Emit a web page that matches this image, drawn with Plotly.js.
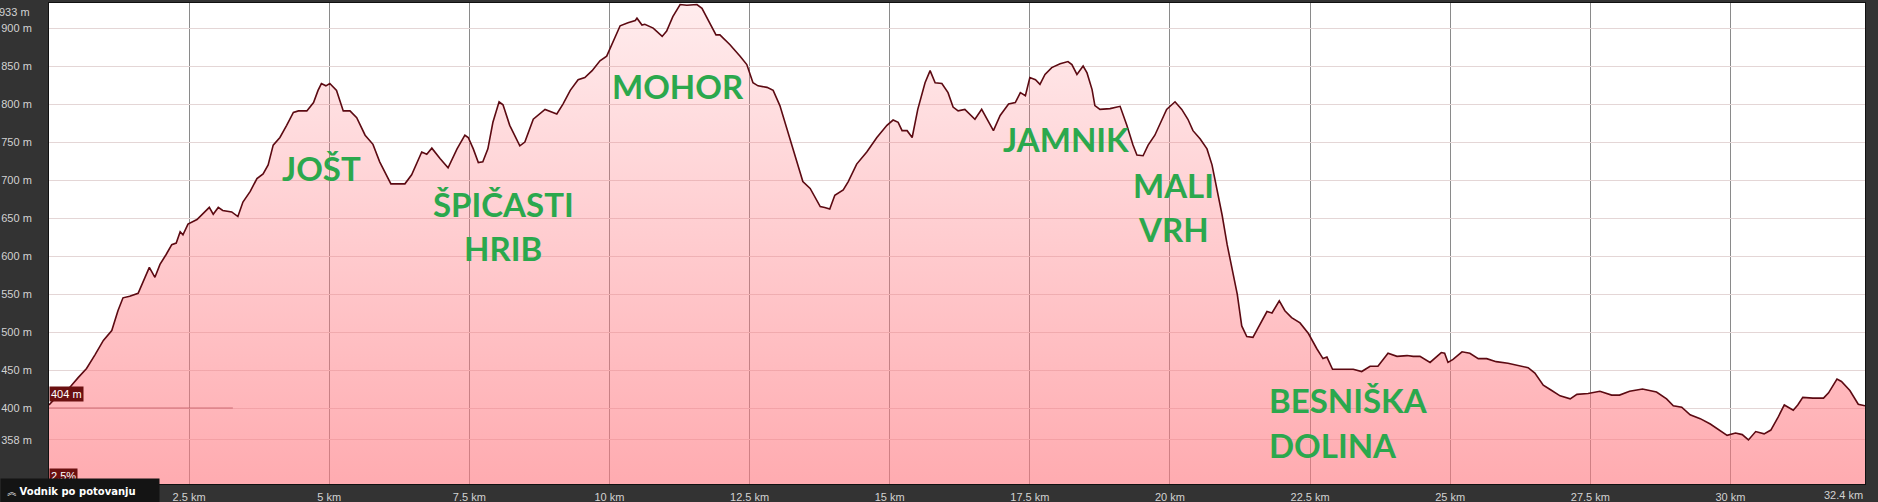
<!DOCTYPE html>
<html><head><meta charset="utf-8">
<script src="https://cdn.plot.ly/plotly-3.0.1.min.js"></script>
<style>html,body{margin:0;padding:0;background:#333;overflow:hidden} #chart{width:1878px;height:502px;}</style>
</head><body><div id="chart"></div>
<script>
// ---- data ----
const distanceKm = [0,0.1,0.22,0.37,0.52,0.67,0.82,0.97,1.12,1.23,1.32,1.44,1.59,1.71,1.79,1.89,1.98,2.09,2.19,2.27,2.34,2.39,2.48,2.64,2.82,2.86,2.93,3.02,3.10,3.26,3.37,3.46,3.59,3.71,3.82,3.91,4.00,4.12,4.24,4.36,4.45,4.60,4.72,4.80,4.86,4.94,5.01,5.13,5.25,5.37,5.49,5.64,5.78,5.90,6.10,6.23,6.35,6.47,6.65,6.74,6.83,6.98,7.12,7.28,7.42,7.48,7.57,7.66,7.74,7.83,7.92,8.03,8.10,8.22,8.40,8.49,8.64,8.85,9.06,9.17,9.30,9.44,9.56,9.69,9.83,9.95,10.04,10.19,10.33,10.46,10.49,10.58,10.63,10.78,10.94,11.02,11.13,11.26,11.38,11.56,11.65,11.76,11.90,11.97,12.15,12.33,12.45,12.56,12.65,12.81,12.92,13.04,13.17,13.27,13.45,13.58,13.76,13.84,13.93,14.02,14.17,14.26,14.41,14.59,14.77,14.95,15.06,15.15,15.22,15.31,15.40,15.50,15.63,15.72,15.81,15.93,16.04,16.13,16.22,16.34,16.43,16.52,16.64,16.76,16.85,16.97,17.12,17.24,17.33,17.42,17.50,17.60,17.68,17.77,17.89,18.04,18.18,18.25,18.34,18.45,18.52,18.61,18.66,18.75,18.93,19.11,19.23,19.34,19.41,19.52,19.61,19.73,19.82,19.94,20.09,20.21,20.32,20.41,20.54,20.66,20.75,20.84,20.93,21.02,21.11,21.20,21.28,21.37,21.48,21.57,21.73,21.82,21.95,22.05,22.17,22.32,22.47,22.62,22.73,22.80,22.90,23.09,23.27,23.42,23.57,23.71,23.89,24.05,24.23,24.34,24.46,24.64,24.84,24.90,24.96,25.05,25.21,25.35,25.50,25.65,25.82,26.03,26.24,26.39,26.51,26.66,26.79,26.96,27.14,27.26,27.46,27.67,27.88,28.02,28.20,28.43,28.68,28.86,28.98,29.13,29.28,29.46,29.64,29.82,29.94,30.09,30.21,30.32,30.45,30.60,30.72,30.85,30.96,31.12,31.20,31.29,31.47,31.66,31.75,31.90,31.98,32.13,32.28,32.40];
const elevationM = [404,412,420,427,440,452,470,489,502,528,545,547,551,571,585,572,589,602,615,617,632,628,642,648,662,664,655,664,660,658,652,671,685,702,708,720,746,756,772,789,791,791,802,818,827,824,827,818,791,791,782,759,747,724,695,695,695,707,737,734,742,728,716,741,759,756,741,723,724,741,776,803,799,772,745,750,780,793,787,800,818,832,835,844,857,863,878,903,907,910,913,904,905,900,889,896,915,931,930,931,926,910,891,891,878,863,852,828,824,822,818,798,767,741,698,689,665,664,662,680,687,698,721,737,756,772,779,776,765,765,756,793,828,844,828,827,815,796,791,793,787,780,793,776,765,785,800,802,815,811,835,832,826,839,848,853,856,852,839,850,841,819,798,793,794,797,772,746,733,732,746,759,773,793,803,793,780,765,754,741,720,689,654,615,584,550,508,494,493,506,527,525,541,528,519,512,498,478,465,467,451,451,451,448,455,455,472,468,469,468,468,460,473,472,460,464,474,472,465,465,461,459,456,453,446,430,424,416,412,418,419,422,417,417,422,425,421,412,403,401,391,386,379,370,364,367,365,358,369,366,371,388,404,397,404,414,413,413,420,438,435,423,405,403];
const xTickVals = [2.5,5,7.5,10,12.5,15,17.5,20,22.5,25,27.5,30];
const xTickText = ['2.5 km','5 km','7.5 km','10 km','12.5 km','15 km','17.5 km','20 km','22.5 km','25 km','27.5 km','30 km'];
const endDistance = 32.4;
const endDistanceLabel = '32.4 km';
const yTickVals = [358,400,450,500,550,600,650,700,750,800,850,900];
const yTickText = ['358 m','400 m','450 m','500 m','550 m','600 m','650 m','700 m','750 m','800 m','850 m','900 m'];
const topElevation = 933;
const topElevationLabel = '933 m';
const peakNames = ['JOŠT','ŠPIČASTI','HRIB','MOHOR','JAMNIK','MALI','VRH','BESNIŠKA','DOLINA'];
const cursorElevationLabel = '404 m';
const cursorGradeLabel = '2.5%';
const guideLabel = 'Vodnik po potovanju';

// ---- layout helpers (positions, not data) ----
const peakPos = [
  {x:4.87, y:716, xa:'center'},
  {x:8.10, y:669, xa:'center'},
  {x:8.10, y:611, xa:'center'},
  {x:11.22, y:824, xa:'center'},
  {x:18.14, y:754, xa:'center'},
  {x:20.07, y:693, xa:'center'},
  {x:20.07, y:635, xa:'center'},
  {x:21.73, y:410, xa:'left'},
  {x:21.73, y:351, xa:'left'}
];
const green = '#2ba84d';
const tickFont = {family:'Liberation Sans, Arial, sans-serif', size:11, color:'#d2d2d2'};

const trace = {
  x: distanceKm, y: elevationM, type:'scatter', mode:'lines',
  line:{color:'#5c0a12', width:1.6, shape:'linear'},
  fill:'tozeroy',
  fillcolor:'rgba(255,120,128,0.4)',
  fillgradient:{type:'vertical', start:300, stop:933,
    colorscale:[[0,'rgba(255,120,128,0.62)'],[1,'rgba(255,120,128,0.14)']]},
  hoverinfo:'skip'
};

const annotations = [];
peakNames.forEach((t,i)=>{
  annotations.push({x:peakPos[i].x, y:peakPos[i].y, xref:'x', yref:'y', text:t, showarrow:false,
    xanchor:peakPos[i].xa, yanchor:'middle',
    font:{family:'Lato, "Open Sans", sans-serif', size:33, color:green, weight:'bold'}});
});
annotations.push({xref:'paper', yref:'paper', x:-17/1816, y:1, xanchor:'right', yanchor:'top', yshift:-1,
  text:topElevationLabel, showarrow:false, font:tickFont});
annotations.push({xref:'x', yref:'paper', x:endDistance, y:0, xanchor:'right', yanchor:'top', yshift:-3,
  text:endDistanceLabel, showarrow:false, font:tickFont});
annotations.push({xref:'paper', yref:'y', x:0, y:418, xanchor:'left', yanchor:'middle',
  text:cursorElevationLabel, showarrow:false, bgcolor:'#6a1010', borderpad:1,
  font:{family:'Liberation Sans, Arial, sans-serif', size:11, color:'#ffffff'}});
annotations.push({xref:'paper', yref:'paper', x:0, y:(484-468)/481, xanchor:'left', yanchor:'top',
  text:cursorGradeLabel, showarrow:false, bgcolor:'#6a1010', borderpad:1,
  font:{family:'Liberation Sans, Arial, sans-serif', size:11, color:'#ffffff'}});
annotations.push({xref:'paper', yref:'paper', x:-49/1816, y:(484-478)/481, xanchor:'left', yanchor:'top',
  width:158, height:24, align:'left', borderpad:0, bgcolor:'#141414',
  text:'\u00a0\u00a0<span style="font-family:Noto Sans CJK SC;font-size:9px">︽</span> <b>'+guideLabel+'</b>', showarrow:false,
  font:{family:'DejaVu Sans, sans-serif', size:10, color:'#ffffff'}});

const shapes = [
  {type:'line', xref:'x', yref:'y', x0:0, x1:3.28, y0:400, y1:400, line:{color:'rgba(200,100,108,0.45)', width:2}, layer:'above'}
];

const layout = {
  width:1878, height:502,
  margin:{l:49, r:13, t:3, b:18, pad:0},
  paper_bgcolor:'#333333', plot_bgcolor:'#ffffff',
  showlegend:false, hovermode:false,
  xaxis:{range:[0,endDistance], tickvals:xTickVals, ticktext:xTickText, showgrid:true,
    gridcolor:'#8a8a8a', gridwidth:1, zeroline:false, showline:true, mirror:true, linecolor:'#111', linewidth:1,
    ticks:'outside', ticklen:3, tickcolor:'rgba(0,0,0,0)', tickfont:tickFont, fixedrange:true},
  yaxis:{range:[300,topElevation], tickvals:yTickVals, ticktext:yTickText, showgrid:true,
    gridcolor:'#e4d6d6', gridwidth:1, zeroline:false, showline:true, mirror:true, linecolor:'#111', linewidth:1,
    ticks:'outside', ticklen:14, tickcolor:'rgba(0,0,0,0)', tickfont:tickFont, fixedrange:true},
  annotations, shapes
};
Plotly.newPlot('chart', [trace], layout, {staticPlot:true, displayModeBar:false});
</script></body></html>
